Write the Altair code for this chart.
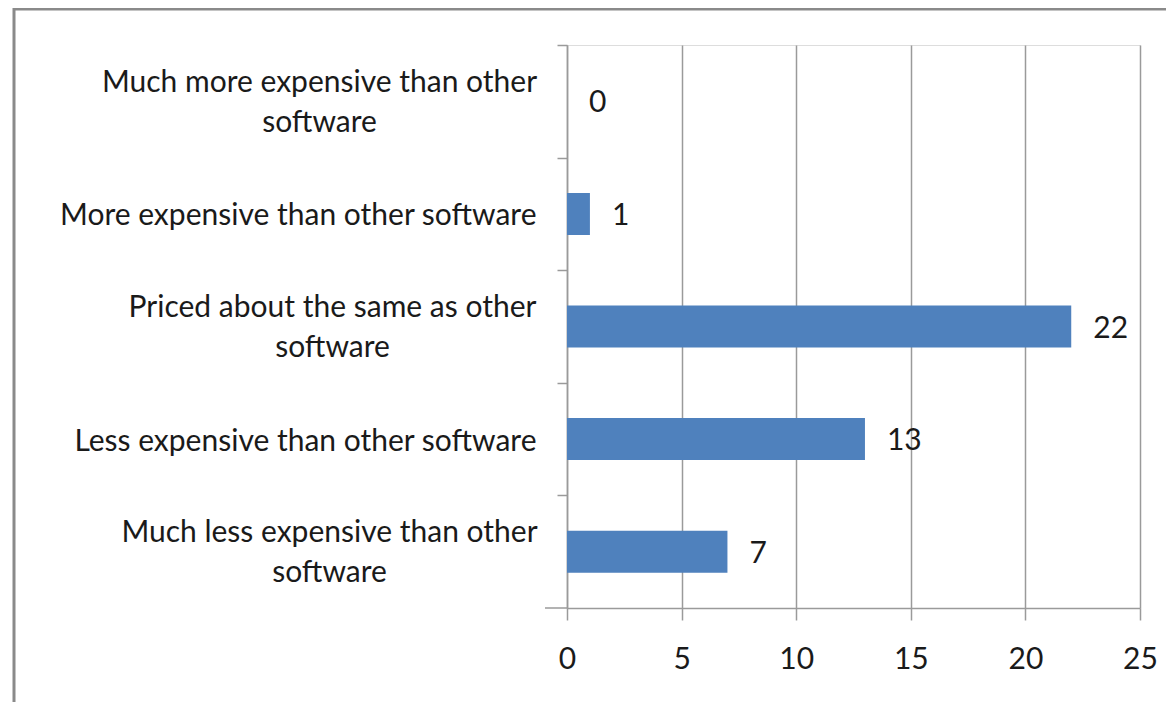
import altair as alt
import pandas as pd

categories = [
    "Much more expensive than other|software",
    "More expensive than other software",
    "Priced about the same as other|software",
    "Less expensive than other software",
    "Much less expensive than other|software",
]
values = [0, 1, 22, 13, 7]
x_ticks = [0, 5, 10, 15, 20, 25]

df = pd.DataFrame({"category": categories, "value": values})

FONT = "Lato"
FS = 30
GRID = "#9a9a9a"
HALF = 56.3

ysc = alt.Scale(domain=categories, paddingInner=0.627, paddingOuter=0.3135)
xsc = alt.Scale(domain=[0, 25], nice=False)

IS_TWO = "indexof(datum.value, '|') >= 0"
two_line_pad = [
    {"test": f"datum.value == '{categories[0]}'", "value": 238},
    {"test": f"datum.value == '{categories[2]}'", "value": 225},
    {"test": f"datum.value == '{categories[4]}'", "value": 228},
]
two_line_align = {"condition": {"test": IS_TWO, "value": "center"}, "value": "right"}
two_line_offset = {"condition": {"test": IS_TWO, "value": HALF - 19}, "value": HALF + 2}

base = alt.Chart(df)

bars = base.mark_bar(color="#4F81BD").encode(
    y=alt.Y("category:N", sort=categories, scale=ysc, title=None,
            axis=alt.Axis(labelExpr="split(datum.label, '|')", labelFont=FONT,
                          labelFontSize=FS, labelColor="#1a1a1a", labelLimit=700,
                          labelPadding={"condition": two_line_pad, "value": 21},
                          labelAlign=two_line_align,
                          tickSize=10, tickColor=GRID, tickWidth=1.5,
                          tickOffset=-HALF, labelOffset=two_line_offset,
                          domainColor=GRID, domainWidth=1.5, labelLineHeight=40,
                          grid=False)),
    x=alt.X("value:Q", scale=xsc, title=None,
            axis=alt.Axis(values=x_ticks, labelFont=FONT, labelFontSize=FS,
                          labelColor="#1a1a1a", tickSize=12, tickColor=GRID,
                          tickWidth=1.5, domainColor=GRID, domainWidth=1.5,
                          labelPadding=24, grid=True, gridColor=GRID,
                          gridWidth=1.5, labelFlush=False)),
    opacity=alt.condition("datum.value > 0", alt.value(1), alt.value(0)),
)

labels = base.mark_text(align="left", baseline="middle", dx=22, dy=2, font=FONT,
                        fontSize=FS, color="#1a1a1a").encode(
    y=alt.Y("category:N", sort=categories, scale=ysc),
    x=alt.X("value:Q", scale=xsc),
    text=alt.Text("value:Q"),
)

border = alt.Chart(pd.DataFrame({"k": [0]})).mark_rect(
    fill=None, stroke="#8a8a8a", strokeWidth=3).encode(
    x=alt.value(-553), x2=alt.value(700), y=alt.value(-36), y2=alt.value(800))

ext = alt.Chart(pd.DataFrame({"k": [0]})).mark_rule(
    color=GRID, strokeWidth=1.5).encode(
    x=alt.value(-22), x2=alt.value(0), y=alt.value(563), y2=alt.value(563))

chart = alt.layer(border, bars, labels, ext).properties(
    width=573, height=563,
    padding={"left": 559, "top": 37, "right": 26, "bottom": 94},
    autosize=alt.AutoSizeParams(type="none"),
).configure_view(stroke=None).configure(background="white")

chart.save("out.html", embed_options={"renderer": "svg", "actions": False})
